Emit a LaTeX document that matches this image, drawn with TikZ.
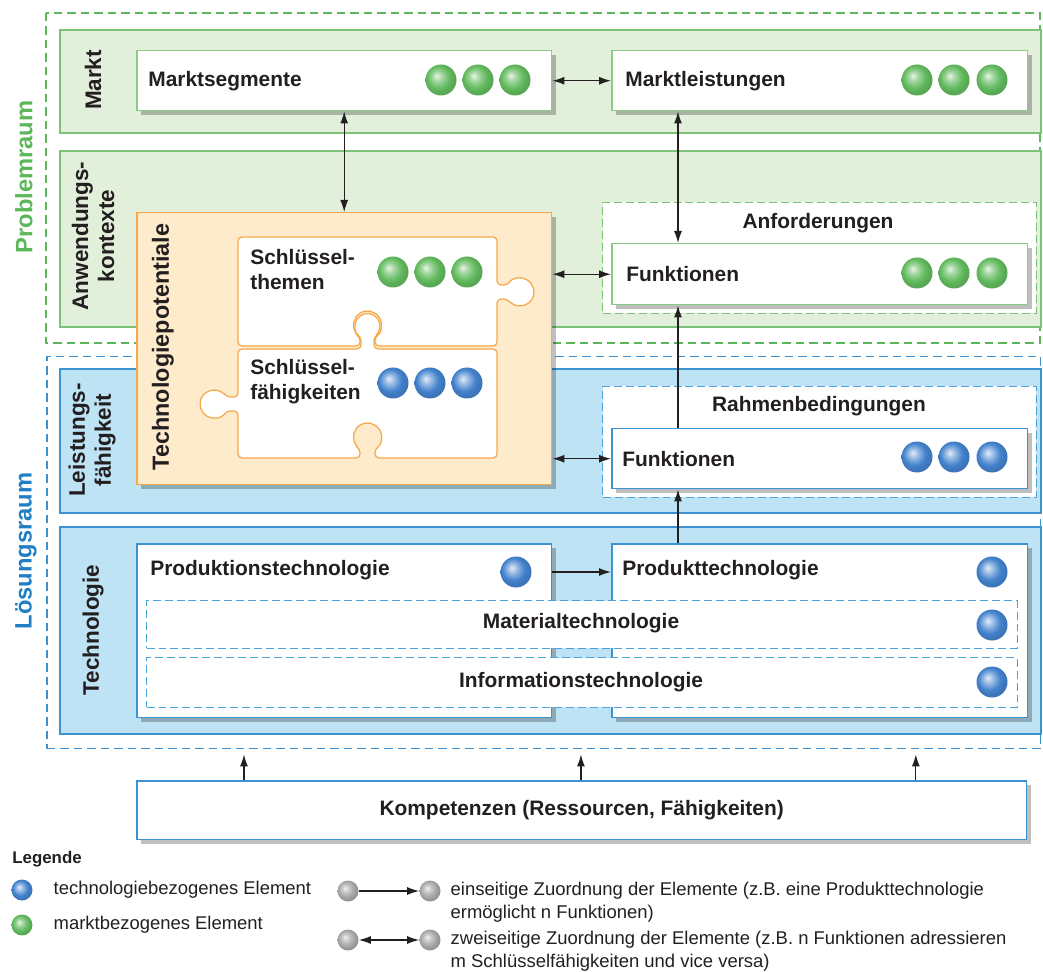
\documentclass[tikz,border=0pt]{standalone}
\usepackage{fontspec}
\setmainfont{Liberation Sans}
\usepackage{xcolor}
\usepackage{tikz}
\usetikzlibrary{arrows.meta,shadows,positioning}

\definecolor{probgreen}{HTML}{5CB65A}
\definecolor{bandgreen}{HTML}{E2EFDA}
\definecolor{linegreen}{HTML}{7CC377}
\definecolor{boxgreen}{HTML}{8ACB86}
\definecolor{loesblue}{HTML}{1F7EC4}
\definecolor{bandblue}{HTML}{BEE3F4}
\definecolor{lineblue}{HTML}{3D93D2}
\definecolor{dashblue}{HTML}{4AA3DC}
\definecolor{potfill}{HTML}{FEEBCB}
\definecolor{potline}{HTML}{F6A849}
\definecolor{ballgreen}{HTML}{62BA5E}
\definecolor{ballblue}{HTML}{4382CD}
\definecolor{ballgray}{HTML}{A8A8A8}
\definecolor{ink}{HTML}{231F20}

\pgfdeclareradialshading{greenshade}{\pgfqpoint{-7bp}{7bp}}{color(0bp)=(ballgreen!15!white); color(8bp)=(ballgreen!60!white); color(18bp)=(ballgreen); color(25bp)=(ballgreen!90!black); color(50bp)=(ballgreen!90!black)}
\pgfdeclareradialshading{blueshade}{\pgfqpoint{-7bp}{7bp}}{color(0bp)=(ballblue!15!white); color(8bp)=(ballblue!55!white); color(18bp)=(ballblue); color(25bp)=(ballblue!90!black); color(50bp)=(ballblue!90!black)}
\pgfdeclareradialshading{grayshade}{\pgfqpoint{-7bp}{7bp}}{color(0bp)=(ballgray!15!white); color(8bp)=(ballgray!60!white); color(18bp)=(ballgray); color(25bp)=(ballgray!88!black); color(50bp)=(ballgray!88!black)}

\tikzset{
  band/.style={draw=#1, line width=0.35mm},
  spacebox/.style={draw=#1, line width=0.3mm, dash pattern=on 1.7mm off 1mm},
  box/.style={draw=#1, fill=white, line width=0.3mm, anchor=north west, inner sep=0pt,
    general shadow={fill=black, opacity=0.25, shadow xshift=0.8mm, shadow yshift=-0.8mm}},
  dashbox/.style={draw=#1, fill=white, line width=0.2mm, dash pattern=on 1.6mm off 0.8mm,
    anchor=north west, inner sep=0pt},
  lbl/.style={font=\fontsize{11.9}{14.2}\selectfont\bfseries, text=ink, inner sep=0pt},
  sidelbl/.style={font=\fontsize{12.8}{14.8}\selectfont\bfseries, text=ink, rotate=90,
    align=center, inner sep=0pt},
  legtext/.style={font=\fontsize{10.5}{13}\selectfont, text=ink, inner sep=0pt, align=left},
  elem/.style={circle, inner sep=0pt, minimum size=4.2mm, shading=#1},
  link/.style={draw=ink, line width=0.25mm, -{Latex[length=2.4mm,width=1.6mm]}},
  links/.style={draw=ink, line width=0.25mm,
    {Latex[length=2.4mm,width=1.6mm]}-{Latex[length=2.4mm,width=1.6mm]}},
  piece/.style={draw=potline, fill=white, line width=0.25mm, rounded corners=0.8mm},
}

\begin{document}
\begin{tikzpicture}[x=0.02cm,y=-0.02cm]
  \useasboundingbox (0,0) rectangle (1043,972);

  % Problemraum / Loesungsraum
  \draw[spacebox=probgreen] (46,13) rectangle (1040,343);
  \node[spacebox=lineblue, anchor=north west, inner sep=0pt,
    minimum width=198.8mm, minimum height=78.4mm] (loes) at (46,356) {};
  \node[sidelbl, text=probgreen, font=\fontsize{13.5}{16}\selectfont\bfseries] (problem) at (24,177) {Problemraum};
  \node[sidelbl, text=loesblue, font=\fontsize{13.5}{16}\selectfont\bfseries] (loesung) at (26,551) {Lösungsraum};

  % Ebenen
  \draw[band=linegreen, fill=bandgreen] (60,30) rectangle (1041,133);
  \draw[band=linegreen, fill=bandgreen] (60,151) rectangle (1041,327);
  \draw[band=lineblue, fill=bandblue] (60,369) rectangle (1041,513);
  \draw[band=lineblue, fill=bandblue] (60,527) rectangle (1041,734);
  \node[sidelbl] (markt) at (93,80) {Markt};
  \node[sidelbl] (anwendung) at (93,236) {Anwendungs-\\kontexte};
  \node[sidelbl] (leistung) at (92,440) {Leistungs-\\fähigkeit};
  \node[sidelbl] (technologie) at (93,630) {Technologie};

  % Markt
  \node[box=boxgreen, minimum width=83mm, minimum height=12mm] (segm) at (136,50) {};
  \node[box=boxgreen, minimum width=83.2mm, minimum height=12mm] (leist) at (611,50) {};
  \node[lbl, anchor=west, right=2.4mm of segm.west] (segmtxt) {Marktsegmente};
  \node[lbl, anchor=west, right=2.8mm of leist.west] (leisttxt) {Marktleistungen};
  \foreach \x in {441,478,515} \shade[shading=greenshade] (\x,80) circle[radius=15.5];
  \foreach \x in {917,954,992} \shade[shading=greenshade] (\x,80) circle[radius=15.5];

  % Anforderungen und Rahmenbedingungen
  \node[dashbox=linegreen, minimum width=86.8mm, minimum height=22.2mm] (anf) at (602,202) {};
  \node[lbl] (anftxt) at (818,223) {Anforderungen};
  \node[box=boxgreen, minimum width=83.2mm, minimum height=12.2mm] (funkA) at (611,243) {};
  \node[lbl, anchor=west, right=3mm of funkA.west] (funkAtxt) {Funktionen};
  \foreach \x in {917,954,992} \shade[shading=greenshade] (\x,273) circle[radius=15.5];

  \node[dashbox=dashblue, minimum width=86.8mm, minimum height=22.2mm] (rahmen) at (602,386) {};
  \node[lbl] (rahmentxt) at (819,406) {Rahmenbedingungen};
  \node[box=lineblue, minimum width=83.2mm, minimum height=12mm] (funkL) at (611,428) {};
  \node[lbl, anchor=west, right=2.2mm of funkL.west] (funkLtxt) {Funktionen};
  \foreach \x in {917,954,992} \shade[shading=blueshade] (\x,457) circle[radius=15.5];

  % Technologiepotentiale mit Puzzle
  \node[box=potline, fill=potfill, minimum width=83mm, minimum height=54.4mm] (pot) at (136,212) {};
  \node[sidelbl, font=\fontsize{13.3}{16}\selectfont\bfseries] (pottxt) at (163,347) {Technologiepotentiale};
  \draw[piece] (238,237) -- (497,237) -- (497,285) -- (507.9,285)
    arc[start angle=210, end angle=510, radius=14] -- (497,299) -- (497,346)
    -- (375,346) -- (375,336.8) arc[start angle=57.6, end angle=-237.6, radius=14]
    -- (360,346) -- (238,346) -- cycle;
  \draw[piece] (238,349) -- (361,349) -- (361,336.7)
    arc[start angle=121.3, end angle=418.7, radius=12.5] -- (374,349) -- (497,349)
    -- (497,458) -- (375,458) -- (375,448.8) arc[start angle=57.6, end angle=-237.6, radius=14]
    -- (360,458) -- (238,458) -- (238,411) -- (226.1,411)
    arc[start angle=30, end angle=330, radius=14] -- (238,397) -- cycle;
  \node[lbl, anchor=west, align=left] (themen) at (250,270) {Schlüssel-\\themen};
  \node[lbl, anchor=west, align=left] (faehig) at (250,382) {Schlüssel-\\fähigkeiten};
  \foreach \x in {393,430,467} \shade[shading=greenshade] (\x,272) circle[radius=15.5];
  \foreach \x in {393,430,467} \shade[shading=blueshade] (\x,383) circle[radius=15.5];

  % Technologie
  \node[box=lineblue, minimum width=83mm, minimum height=34.8mm] (prodtech) at (136,543) {};
  \node[box=lineblue, minimum width=83.2mm, minimum height=34.8mm] (produkt) at (611,543) {};
  \node[dashbox=dashblue, minimum width=174.2mm, minimum height=9.6mm] (material) at (146,600) {};
  \node[dashbox=dashblue, minimum width=174.2mm, minimum height=10mm] (info) at (146,657) {};
  \node[lbl, anchor=west] (prodtechtxt) at ([shift={(2.8mm,-5.4mm)}]prodtech.north west) {Produktionstechnologie};
  \node[lbl, anchor=west] (produkttxt) at ([shift={(2.2mm,-5.4mm)}]produkt.north west) {Produkttechnologie};
  \node[lbl] (materialtxt) at (581,623) {Materialtechnologie};
  \node[lbl] (infotxt) at (581,682) {Informationstechnologie};
  \shade[shading=blueshade] (516,572) circle[radius=15.5];
  \foreach \y in {572,625,682} \shade[shading=blueshade] (992,\y) circle[radius=15.5];

  % Kompetenzen
  \node[box=lineblue, minimum width=178mm, minimum height=11.8mm] (komp) at (136,780) {};
  \node[lbl] (komptxt) at (komp.center) {Kompetenzen (Ressourcen, Fähigkeiten)};

  % Zuordnungen
  \draw[links] (segm.east) -- (leist.west);
  \draw[links] (segm.south) -- (pot.north);
  \draw[links] ([xshift=13.4mm]leist.south west) -- ([xshift=13.4mm]funkA.north west);
  \draw[links] (pot.east |- funkA.west) -- (funkA.west);
  \draw[links] (pot.east |- funkL.west) -- (funkL.west);
  \draw[link] ([xshift=13.4mm]funkL.north west) -- ([xshift=13.4mm]funkA.south west);
  \draw[link] ([xshift=13.4mm]produkt.north west) -- ([xshift=13.4mm]funkL.south west);
  \draw[link] ([yshift=-5.8mm]prodtech.north east) -- ([yshift=-5.8mm]produkt.north west);
  \foreach \dx in {21.6,89,156}
    \draw[link, shorten >=1mm] ([xshift=\dx mm]komp.north west) -- ([xshift=\dx mm]komp.north west |- loes.south);

  % Legende
  \node[lbl, anchor=west, font=\fontsize{9.6}{12}\selectfont\bfseries] (legende) at (12,859) {Legende};
  \node[elem=blueshade] (lgblue) at (22,890) {};
  \node[elem=greenshade] (lggreen) at (22,925) {};
  \node[legtext, right=4.1mm of lgblue] (lgbluetxt) {technologiebezogenes Element};
  \node[legtext, right=4.1mm of lggreen] (lggreentxt) {marktbezogenes Element};
  \node[elem=grayshade] (ga) at (348,891) {};
  \node[elem=grayshade] (gb) at (430,891) {};
  \node[elem=grayshade] (gc) at (348,940) {};
  \node[elem=grayshade] (gd) at (430,940) {};
  \draw[link] (ga) -- (gb);
  \draw[links] (gc) -- (gd);
  \node[legtext, right=1.9mm of gb, yshift=-2.3mm] (einseitig)
    {einseitige Zuordnung der Elemente (z.B. eine Produkttechnologie\\ermöglicht n Funktionen)};
  \node[legtext, right=1.9mm of gd, yshift=-2.3mm] (zweiseitig)
    {zweiseitige Zuordnung der Elemente (z.B. n Funktionen adressieren\\m Schlüsselfähigkeiten und vice versa)};
\end{tikzpicture}
\end{document}
